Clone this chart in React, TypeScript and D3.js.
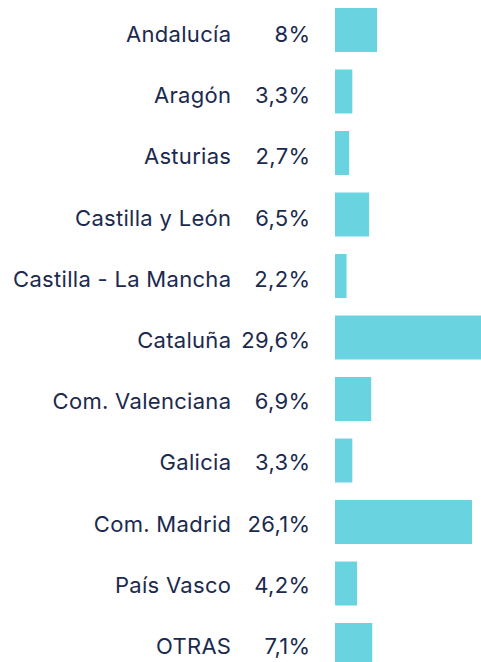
import React from "react";
import * as d3 from "d3";

const categories = [
  "Andalucía",
  "Aragón",
  "Asturias",
  "Castilla y León",
  "Castilla - La Mancha",
  "Cataluña",
  "Com. Valenciana",
  "Galicia",
  "Com. Madrid",
  "País Vasco",
  "OTRAS",
];
const values = [8, 3.3, 2.7, 6.5, 2.2, 29.6, 6.9, 3.3, 26.1, 4.2, 7.1];
const valueLabels = ["8%", "3,3%", "2,7%", "6,5%", "2,2%", "29,6%", "6,9%", "3,3%", "26,1%", "4,2%", "7,1%"];

const W = 481;
const H = 662;
const BAR_X = 335;
const TEXT_COLOR = "#1b2a4e";
const BAR_COLOR = "#69d3df";

export default function App() {
  const y = d3
    .scaleBand<string>()
    .domain(categories)
    .range([8, 667])
    .paddingInner(0.285)
    .paddingOuter(0);
  const yText = d3.scalePoint<string>().domain(categories).range([42, 654]);
  const x = d3.scaleLinear().domain([0, 10]).range([0, 52.5]);

  const textProps = {
    textAnchor: "end" as const,
    fontFamily: "Inter, 'Noto Sans', sans-serif",
    fontSize: 22,
    letterSpacing: 0.3,
    fill: TEXT_COLOR,
  };

  return (
    <svg
      width={W}
      height={H}
      style={{ position: "absolute", left: 0, top: 0, overflow: "hidden", display: "block" }}
    >
      {categories.map((c, i) => {
        const top = y(c)!;
        const bw = y.bandwidth();
        const base = yText(c)!;
        return (
          <g key={c}>
            <rect x={BAR_X} y={top} width={x(values[i])} height={bw} fill={BAR_COLOR} />
            <text x={231.3} y={base} {...textProps}>
              {c}
            </text>
            <text x={310.3} y={base} {...textProps}>
              {valueLabels[i]}
            </text>
          </g>
        );
      })}
    </svg>
  );
}
